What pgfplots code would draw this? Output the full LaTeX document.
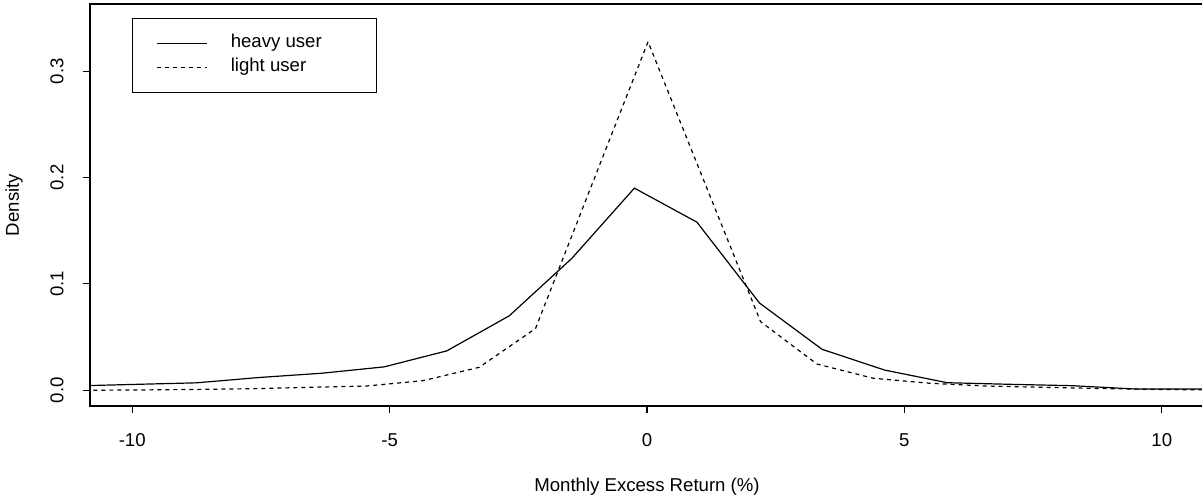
\documentclass[border=0pt]{standalone}
\usepackage{fontspec}
\setmainfont{Liberation Sans}
\usepackage{pgfplots}
\pgfplotsset{compat=1.18}
\begin{document}
\begin{tikzpicture}
\useasboundingbox (-45pt,-44pt) rectangle (556pt,203pt);
\clip (-45pt,-44pt) rectangle (556pt,203pt);
\begin{axis}[
  at={(0pt,0pt)}, anchor=south west,
  scale only axis, width=557pt, height=201pt,
  xmin=-10.82, xmax=10.82, ymin=-0.0148, ymax=0.3631,
  xtick={-10,-5,0,5,10}, xticklabels={-10,-5,0,5,10},
  ytick={0,0.1,0.2,0.3}, yticklabels={0.0,0.1,0.2,0.3},
  tick pos=left, tick align=outside, major tick length=3.6pt,
  tick style={black, line width=0.6pt},
  axis line style={black, line width=0.6pt},
  font=\fontsize{9.3}{11}\selectfont,
  xticklabel style={anchor=center, yshift=-13.4pt},
  yticklabel style={anchor=center, xshift=-12.9pt, rotate=90},
  every axis x label/.style={at={(axis description cs:0.5,0)}, anchor=center, yshift=-40.5pt},
  every axis y label/.style={at={(axis description cs:0,0.5)}, anchor=center, xshift=-38pt, rotate=90},
  xlabel={Monthly Excess Return (\%)},
  ylabel={Density},
  legend style={at={(axis description cs:0.0377,0.9652)}, anchor=north west,
    draw=black, line width=0.6pt, inner xsep=12pt, inner ysep=8.5pt,
    row sep=4pt, column sep=11.5pt,
    nodes={inner sep=0pt, text height=6pt, text depth=2pt},
    font=\fontsize{9.3}{11}\selectfont},
  legend cell align=left,
  legend image code/.code={\draw[#1] (0pt,0pt) -- (25pt,0pt);},
]
\addplot[black, line width=0.6pt] coordinates {
(-11.18,0.004) (-9.965,0.0055) (-8.75,0.007) (-7.535,0.012) (-6.32,0.016)
(-5.105,0.022) (-3.89,0.037) (-2.675,0.070) (-1.46,0.124) (-0.245,0.190)
(0.97,0.158) (2.185,0.082) (3.40,0.0385) (4.615,0.019) (5.83,0.0071)
(7.045,0.0056) (8.26,0.0043) (9.475,0.0012) (10.69,0.0012) (11.905,0.001)
};
\addlegendentry{\makebox[61pt][l]{heavy user}}
\addplot[black, line width=0.6pt, dash pattern=on 2pt off 2pt] coordinates {
(-10.91,0.0) (-9.817,0.0003) (-8.724,0.0008) (-7.631,0.0015) (-6.538,0.0028)
(-5.445,0.004) (-4.352,0.009) (-3.259,0.0216) (-2.166,0.058) (-1.073,0.193)
(0.02,0.3276) (1.113,0.196) (2.206,0.0645) (3.299,0.0247) (4.392,0.0113)
(5.485,0.0066) (6.578,0.004) (7.671,0.0028) (8.764,0.0017) (9.857,0.0008)
(10.95,0.0003)
};
\addlegendentry{\makebox[61pt][l]{light user}}
\end{axis}
\end{tikzpicture}
\end{document}
